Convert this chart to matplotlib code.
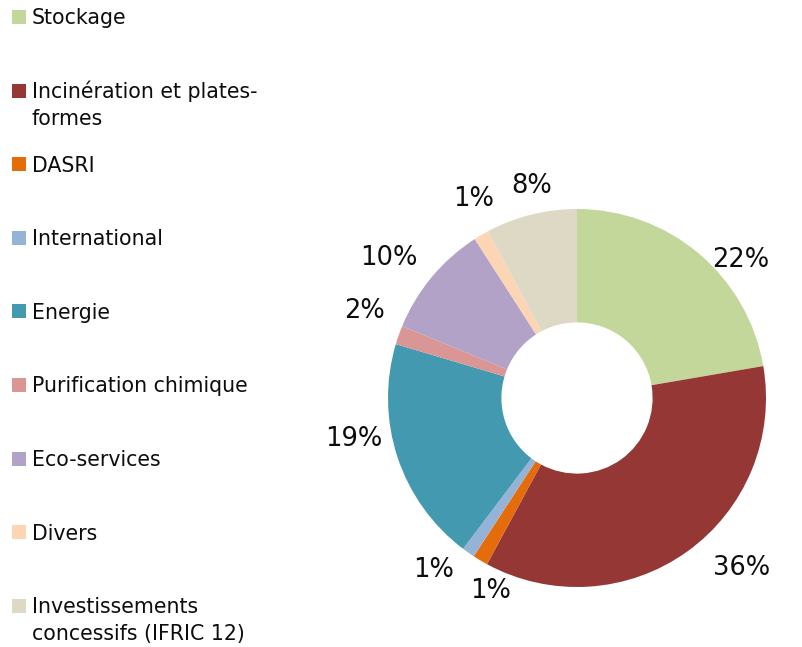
import numpy as np
import matplotlib.pyplot as plt
from matplotlib.patches import Rectangle

# data (shares in %; labels as printed on the chart)
categories = ["Stockage", "Incinération et plates-\nformes", "DASRI", "International",
              "Energie", "Purification chimique", "Eco-services", "Divers",
              "Investissements\nconcessifs (IFRIC 12)"]
shares = [22.3, 35.6, 1.3, 1.1, 19.3, 1.6, 9.7, 1.3, 7.8]
pct_labels = ["22%", "36%", "1%", "1%", "19%", "2%", "10%", "1%", "8%"]
colors = ["#C4D79B", "#953735", "#E46C0A", "#95B3D7", "#4399B0",
          "#D99694", "#B3A2C7", "#FCD5B5", "#DDD9C4"]

# label placement (style): radial distance and angle nudge in degrees
label_dist = [1.14, 1.24, 1.105, 1.175, 1.20, 1.22, 1.25, 1.20, 1.16]
label_nudge = [9.2, -8.9, -6.2, 5.3, 8.6, 3.6, -2.7, 3.4, 2.1]

W, H = 802, 647
fig = plt.figure(figsize=(W / 100, H / 100), dpi=100)

# donut axes: centre (577, 398) px, radius 189 px
cx, cy, r = 577, 398, 189
ax = fig.add_axes([(cx - r) / W, (H - cy - r) / H, 2 * r / W, 2 * r / H])
wedges, _ = ax.pie(shares, colors=colors, startangle=90, counterclock=False,
                   radius=1, wedgeprops=dict(width=0.6, linewidth=0))
ax.set_xlim(-1, 1)
ax.set_ylim(-1, 1)
ax.set_aspect("equal")

# percentage labels outside the ring
cum = np.cumsum([0] + shares[:-1])
for i, lab in enumerate(pct_labels):
    mid = (cum[i] + shares[i] / 2) / 100 * 360 + label_nudge[i]
    th = np.deg2rad(mid)
    d = label_dist[i]
    ax.text(d * np.sin(th), d * np.cos(th) - 0.015, lab, fontsize=18.5,
            ha="center", va="center", color="#0d0d0d")

# legend drawn by hand, one slot every ~73.6 px
y0 = 17
step = 73.6
for i, (name, c) in enumerate(zip(categories, colors)):
    y = y0 + i * step
    fig.patches.append(Rectangle((12 / W, 1 - (y + 7) / H), 14 / W, 14 / H,
                                 transform=fig.transFigure, facecolor=c, edgecolor="none"))
    for k, line in enumerate(name.split("\n")):
        fig.text(32 / W, 1 - (y + 7.5 + 27 * k) / H, line, fontsize=14.8,
                 va="baseline", ha="left", color="#0d0d0d")

fig.savefig("out.png", dpi=100)
